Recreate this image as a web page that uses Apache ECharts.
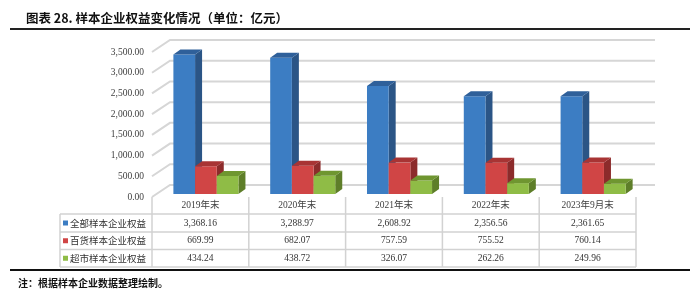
<!DOCTYPE html>
<html>
<head>
<meta charset="utf-8">
<script src="https://cdn.jsdelivr.net/npm/echarts@6/dist/echarts.min.js"></script>
<style>html,body{margin:0;padding:0;background:#fff}#c{width:700px;height:297px}</style>
</head>
<body>
<div id="c"></div>
<script>
const titleText = '图表 28. 样本企业权益变化情况（单位：亿元）';
const noteText = '注：根据样本企业数据整理绘制。';
const categories = ['2019年末', '2020年末', '2021年末', '2022年末', '2023年9月末'];
const seriesNames = ['全部样本企业权益', '百货样本企业权益', '超市样本企业权益'];
const totalEquity = [3368.16, 3288.97, 2608.92, 2356.56, 2361.65];
const deptEquity = [669.99, 682.07, 757.59, 755.52, 760.14];
const superEquity = [434.24, 438.72, 326.07, 262.26, 249.96];
const yTicks = [0, 500, 1000, 1500, 2000, 2500, 3000, 3500];

const seriesValues = [totalEquity, deptEquity, superEquity];
const faceColors = [
  { front: '#3c7dc3', side: '#2b5586', top: '#2f609a' },
  { front: '#d04545', side: '#8c2b2b', top: '#a83434' },
  { front: '#8fbc46', side: '#5e7e29', top: '#6f9630' }
];
const serif = '"Liberation Serif", "Noto Sans CJK SC", serif';
const cjk = '"Noto Sans CJK SC", sans-serif';

function fmt(v) {
  const s = v.toFixed(2);
  const parts = s.split('.');
  parts[0] = parts[0].replace(/\B(?=(\d{3})+(?!\d))/g, ',');
  return parts.join('.');
}

const chart = echarts.init(document.getElementById('c'), null, { renderer: 'canvas' });

function barRender(sIdx) {
  return function (params, api) {
    const idx = api.value(0);
    const val = api.value(1);
    const base = api.coord([idx, 0]);
    const top = api.coord([idx, val]);
    const band = api.size([1, 0])[0];
    const w = band * 0.224;
    const shift = band * 0.057;
    const dx = 7, dy = 5;
    const x = base[0] - 1.5 * w + shift + sIdx * w;
    const yb = base[1], yt = top[1];
    const c = faceColors[sIdx];
    return {
      type: 'group',
      children: [
        { type: 'polygon', shape: { points: [[x + w, yt], [x + w + dx, yt - dy], [x + w + dx, yb - dy], [x + w, yb]] }, style: { fill: c.side } },
        { type: 'rect', shape: { x: x, y: yt, width: w, height: yb - yt }, style: { fill: c.front } },
        { type: 'polygon', shape: { points: [[x, yt], [x + dx, yt - dy], [x + w + dx, yt - dy], [x + w, yt]] }, style: { fill: c.top } }
      ]
    };
  };
}

function wallRender(params, api) {
  const cs = params.coordSys;
  const v = api.value(1);
  const p = api.coord([0, v]);
  const y = p[1];
  const gx = cs.x, gr = cs.x + cs.width;
  return {
    type: 'group',
    children: [
      {
        type: 'polyline',
        shape: { points: [[gx, y + 3], [gx + 18, y - 9], [gr + 19, y - 9]] },
        style: { stroke: '#d6d6d6', lineWidth: 2, fill: null }
      },
      {
        type: 'text',
        x: gx - 8, y: y + 3,
        style: { text: fmt(v), font: '9.5px ' + serif, fill: '#404040', align: 'right', verticalAlign: 'middle' }
      }
    ]
  };
}

const series = [{
  type: 'custom',
  name: 'wall',
  z: 1,
  renderItem: wallRender,
  data: yTicks.map(v => [0, v]),
  silent: true
}];
seriesValues.forEach((arr, s) => {
  series.push({
    type: 'custom',
    name: seriesNames[s],
    z: 2 + s,
    renderItem: barRender(s),
    data: arr.map((v, i) => [i, v]),
    silent: true
  });
});

chart.setOption({
  animation: false,
  title: {
    text: titleText,
    left: 21, top: 7,
    textStyle: { fontFamily: cjk, fontSize: 12.5, fontWeight: 'bold', color: '#111' }
  },
  grid: { left: 152, right: 64, top: 49, bottom: 103, containLabel: false },
  xAxis: {
    type: 'category',
    data: categories,
    axisLine: { show: false },
    axisTick: { show: false },
    axisLabel: { margin: 7, fontFamily: serif, fontSize: 9.5, color: '#404040' },
    splitLine: { show: false }
  },
  yAxis: {
    type: 'value',
    min: 0, max: 3500, interval: 500,
    axisLine: { show: false },
    axisTick: { show: false },
    splitLine: { show: false },
    axisLabel: { show: false }
  },
  series: series
});

// table built from arrays, positioned from axis scale
const centers = categories.map((c, i) => chart.convertToPixel({ gridIndex: 0 }, [i, 0]));
const band = centers[1][0] - centers[0][0];
const colEdges = [];
for (let i = 0; i <= categories.length; i++) colEdges.push(centers[0][0] - band / 2 + i * band);
const baseY = centers[0][1];
const headTop = baseY + 3;
const rowYs = [baseY + 20, baseY + 38, baseY + 55.5, baseY + 73];
const tableLeft = 60;
const lineStyle = { stroke: '#d2d2d2', lineWidth: 1.5 };
const g = [];
rowYs.forEach(y => g.push({ type: 'line', shape: { x1: tableLeft, y1: y, x2: colEdges[colEdges.length - 1], y2: y }, style: lineStyle }));
g.push({ type: 'line', shape: { x1: tableLeft, y1: rowYs[0], x2: tableLeft, y2: rowYs[3] }, style: lineStyle });
colEdges.forEach(x => g.push({ type: 'line', shape: { x1: x, y1: headTop, x2: x, y2: rowYs[3] }, style: lineStyle }));
seriesNames.forEach((name, s) => {
  const cy = (rowYs[s] + rowYs[s + 1]) / 2;
  g.push({ type: 'rect', shape: { x: 63, y: cy - 2.5, width: 5, height: 5 }, style: { fill: faceColors[s].front } });
  g.push({ type: 'text', x: 70, y: cy, style: { text: name, font: '9.5px ' + cjk, fill: '#333', verticalAlign: 'middle', align: 'left' } });
  seriesValues[s].forEach((v, i) => {
    g.push({ type: 'text', x: centers[i][0], y: cy, style: { text: fmt(v), font: '9.5px ' + serif, fill: '#333', verticalAlign: 'middle', align: 'center' } });
  });
});
g.push({ type: 'line', shape: { x1: 10, y1: 29, x2: 690, y2: 29 }, style: { stroke: '#222', lineWidth: 2 } });
g.push({ type: 'line', shape: { x1: 10, y1: 270, x2: 690, y2: 270 }, style: { stroke: '#111', lineWidth: 2 } });
g.push({ type: 'text', x: 18, y: 283, style: { text: noteText, font: 'bold 10px ' + cjk, fill: '#111', verticalAlign: 'middle', align: 'left' } });

chart.setOption({ graphic: { elements: g } });
</script>
</body>
</html>
